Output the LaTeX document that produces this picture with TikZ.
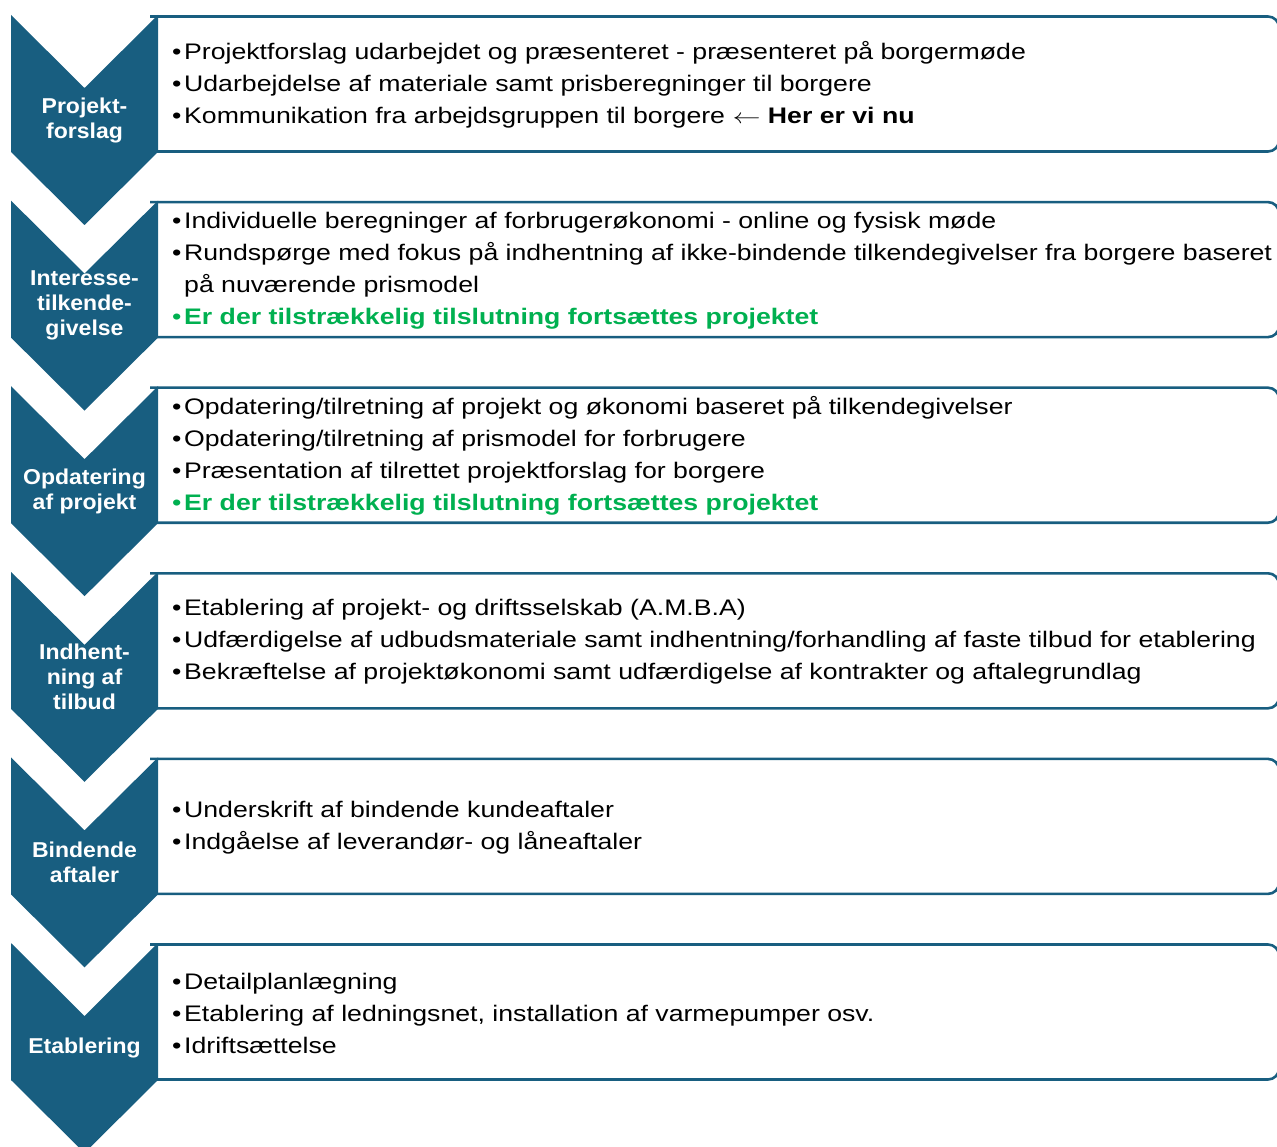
\documentclass[tikz,border=0pt]{standalone}
\usepackage{fontspec}
\setmainfont{Liberation Sans}[FakeStretch=1.185]
\newfontfamily\lblfont{Liberation Sans}[FakeStretch=1.07]
\definecolor{teal1}{RGB}{24,94,128}
\definecolor{grn}{RGB}{0,176,80}
\newcommand{\bul}{\makebox[12pt][l]{•}}
\newcommand{\ind}{\hspace*{12pt}}
\tikzset{
  chev/.style={fill=teal1, draw=none},
  stepbox/.style={draw=teal1, line width=2.6pt, rounded corners=11pt},
  lbl/.style={text=white, font=\lblfont\fontsize{21.5}{25}\selectfont\bfseries, align=center},
  txt/.style={anchor=west, inner sep=0pt, align=left, font=\fontsize{22.5}{32}\selectfont}
}
\begin{document}
\begin{tikzpicture}[x=1pt,y=-1pt]
\useasboundingbox (0,0) rectangle (1277,1147);
\foreach \i in {0,...,5}{
  \pgfmathsetmacro{\t}{15+185.6*\i}
  \draw[stepbox] (150,\t+1.5) -- (1279,\t+1.5) -- (1279,\t+136.5) -- (150,\t+136.5);
  \fill[chev] (11,\t) -- (84.5,\t+73) -- (158,\t) -- (158,\t+137) -- (84.5,\t+210) -- (11,\t+137) -- cycle;
}
% labels
\node[lbl] (l1) at (84.5,120) {Projekt-\\forslag};
\node[lbl] (l2) at (84.5,305.6) {Interesse-\\tilkende-\\givelse};
\node[lbl] (l3) at (84.5,491.2) {Opdatering\\af projekt};
\node[lbl] (l4) at (84.5,676.8) {Indhent-\\ning af\\tilbud};
\node[lbl] (l5) at (84.5,862.4) {Bindende\\aftaler};
\node[lbl] (l6) at (84.5,1048) {Etablering};
% texts
\node[txt] (t1) at (172,85) {\bul Projektforslag udarbejdet og præsenteret - præsenteret på borgermøde\\
\bul Udarbejdelse af materiale samt prisberegninger til borgere\\
\bul Kommunikation fra arbejdsgruppen til borgere \scalebox{1.35}[1]{$\leftarrow$} \textbf{Her er vi nu}};
\node[txt] (t2) at (172,270.6) {\bul Individuelle beregninger af forbrugerøkonomi - online og fysisk møde\\
\bul Rundspørge med fokus på indhentning af ikke-bindende tilkendegivelser fra borgere baseret\\
\ind på nuværende prismodel\\
\textcolor{grn}{\bul\textbf{Er der tilstrækkelig tilslutning fortsættes projektet}}};
\node[txt] (t3) at (172,456.2) {\bul Opdatering/tilretning af projekt og økonomi baseret på tilkendegivelser\\
\bul Opdatering/tilretning af prismodel for forbrugere\\
\bul Præsentation af tilrettet projektforslag for borgere\\
\textcolor{grn}{\bul\textbf{Er der tilstrækkelig tilslutning fortsættes projektet}}};
\node[txt] (t4) at (172,641.8) {\bul Etablering af projekt- og driftsselskab (A.M.B.A)\\
\bul Udfærdigelse af udbudsmateriale samt indhentning/forhandling af faste tilbud for etablering\\
\bul Bekræftelse af projektøkonomi samt udfærdigelse af kontrakter og aftalegrundlag};
\node[txt] (t5) at (172,827.4) {\bul Underskrift af bindende kundeaftaler\\
\bul Indgåelse af leverandør- og låneaftaler};
\node[txt] (t6) at (172,1013) {\bul Detailplanlægning\\
\bul Etablering af ledningsnet, installation af varmepumper osv.\\
\bul Idriftsættelse};
\end{tikzpicture}
\end{document}
